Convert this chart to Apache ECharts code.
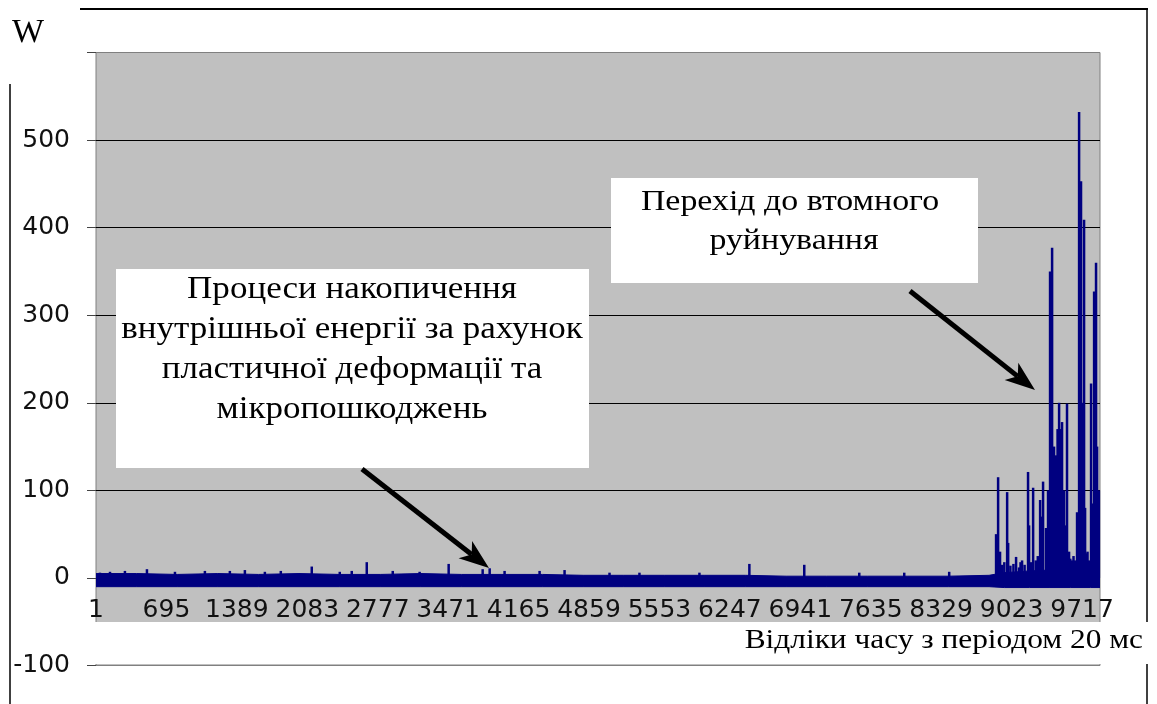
<!DOCTYPE html>
<html>
<head>
<meta charset="utf-8">
<script src="https://cdn.jsdelivr.net/npm/echarts@6/dist/echarts.min.js"></script>
<style>
  html, body { margin: 0; padding: 0; background: #ffffff; }
  #chart { width: 1157px; height: 704px; }
</style>
</head>
<body>
<div id="chart"></div>
<script>
// Number of recorded samples (20 ms apart)
const sampleCount = 9894;
// Category labels: sample numbers 1..N (every 694th one is shown)
const sampleNumbers = Array.from({ length: sampleCount }, (_, i) => String(i + 1));

// Background noise band: upper and lower envelope, W
const envelopeIdx = [0, 400, 800, 1200, 1600, 2000, 2400, 2800, 3200, 3600, 4000, 4400, 4800,
  5200, 5600, 6000, 6400, 6800, 7200, 7600, 8000, 8400, 8800, 8950, 9200, 9400, 9600, 9800, 9893];
const envelopeUpper = [5, 5, 4, 5, 4, 5, 4, 4, 5, 4, 4, 4, 3,
  3, 3, 3, 3, 2, 2, 2, 2, 2, 3, 6, 8, 9, 8, 9, 8];
const envelopeLower = [-10, -10, -10, -10, -10, -10, -10, -10, -10, -10, -10, -10, -10,
  -10, -10, -10, -10, -10, -10, -10, -10, -10, -10, -11, -11, -11, -11, -11, -11];

// Isolated peaks: sample index and W value
const spikeIdx = [39, 138, 285, 502, 778, 1073, 1319, 1467, 1664, 1821, 2126, 2402, 2520, 2668,
  2924, 3189, 3475, 3810, 3879, 4026, 4371, 4617, 5060, 5355, 5946, 6438, 6979, 7521, 7964, 8407,
  8869, 8889, 8908, 8930, 8950, 8978, 8988, 9010, 9040, 9066, 9095, 9110, 9125, 9150, 9184, 9194,
  9215, 9234, 9260, 9280, 9303, 9313, 9332, 9361, 9381, 9401, 9411, 9421, 9440, 9460, 9475, 9490,
  9500, 9519, 9539, 9555, 9568, 9588, 9600, 9617, 9632, 9647, 9667, 9687, 9697, 9706, 9716, 9736,
  9746, 9756, 9770, 9785, 9805, 9815, 9825, 9835, 9845, 9854, 9864, 9874, 9884];
const spikeVal = [6, 7, 8, 10, 7, 8, 8, 9, 7, 8, 13, 7, 8, 18,
  8, 7, 16, 10, 11, 8, 8, 9, 6, 6, 6, 16, 15, 6, 6, 7,
  50, 115, 30, 15, 18, 98, 40, 14, 16, 24, 12, 18, 20, 15, 121, 60,
  18, 103, 20, 25, 89, 70, 110, 57, 100, 350, 330, 377, 150, 140, 170, 200,
  170, 178, 100, 60, 199, 30, 22, 20, 25, 20, 75, 532, 300, 453, 200, 409,
  80, 28, 30, 20, 222, 60, 85, 327, 120, 360, 150, 25, 100];

const navy = '#000080';

const chart = echarts.init(document.getElementById('chart'), null, { renderer: 'canvas' });

function arrow(x1, y1, x2, y2) {
  const dx = x2 - x1, dy = y2 - y1;
  const len = Math.sqrt(dx * dx + dy * dy);
  const ux = dx / len, uy = dy / len;
  const nx = -uy, ny = ux;
  const headLen = 30, headHalf = 11, notch = 22;
  const bx = x2 - headLen * ux, by = y2 - headLen * uy;
  const mx = x2 - notch * ux, my = y2 - notch * uy;
  return [
    { type: 'line', z: 120, shape: { x1: x1, y1: y1, x2: mx, y2: my },
      style: { stroke: '#000', lineWidth: 5 } },
    { type: 'polygon', z: 121, shape: { points: [[x2, y2], [bx + headHalf * nx, by + headHalf * ny], [mx, my], [bx - headHalf * nx, by - headHalf * ny]] },
      style: { fill: '#000' } }
  ];
}

const serif = '"Liberation Serif", "Times New Roman", serif';
const sans = '"DejaVu Sans", Arial, sans-serif';

// centred serif caption line, widened slightly
function caption(x, y, text, size, sx) {
  return { type: 'text', z: 120, x: x, y: y, scaleX: sx,
    style: { x: 0, y: 0, text: text, font: size + 'px ' + serif, fill: '#000', textAlign: 'center', textVerticalAlign: 'middle' } };
}

const option = {
  animation: false,
  backgroundColor: '#ffffff',
  grid: {
    left: 96, right: 57, top: 52.5, bottom: 38.5,
    outerBoundsMode: 'none',
    show: true, backgroundColor: '#c0c0c0', borderColor: '#808080', borderWidth: 1
  },
  xAxis: {
    type: 'category',
    data: sampleNumbers,
    boundaryGap: false,
    position: 'bottom',
    // category axis crosses the value axis at W = 0 (100 W below is 87.6 px)
    offset: -87.6,
    axisLine: { show: false, onZero: false },
    axisTick: { show: false },
    splitLine: { show: false },
    axisLabel: {
      interval: 693,
      margin: 20,
      fontSize: 25,
      fontFamily: sans,
      color: '#111'
    }
  },
  yAxis: {
    type: 'value',
    min: -100, max: 600, interval: 100,
    axisLine: { show: false },
    axisTick: { show: true, length: 9, lineStyle: { color: '#444', width: 1 } },
    splitLine: { show: true, showMinLine: false, showMaxLine: false, lineStyle: { color: '#000', width: 1 } },
    axisLabel: {
      margin: 26,
      fontSize: 25,
      fontFamily: sans,
      color: '#111',
      formatter: function (v) { return v === 600 ? '' : String(v); }
    }
  },
  series: [
    {
      name: 'upper',
      type: 'line',
      symbol: 'none',
      data: envelopeIdx.map((x, i) => [x, envelopeUpper[i]]),
      lineStyle: { color: navy, width: 1 },
      areaStyle: { color: navy, opacity: 1 },
      z: 3
    },
    {
      name: 'lower',
      type: 'line',
      symbol: 'none',
      data: envelopeIdx.map((x, i) => [x, envelopeLower[i]]),
      lineStyle: { color: navy, width: 1 },
      areaStyle: { color: navy, opacity: 1 },
      z: 3
    },
    {
      name: 'peaks',
      type: 'bar',
      barWidth: 2.5,
      data: spikeIdx.map((x, i) => [x, spikeVal[i]]),
      itemStyle: { color: navy },
      z: 4
    }
  ],
  graphic: {
    elements: [
      // outer frame lines
      { type: 'line', z: 110, shape: { x1: 80, y1: 9, x2: 1148, y2: 9 }, style: { stroke: '#000', lineWidth: 2 } },
      { type: 'line', z: 110, shape: { x1: 1147, y1: 9, x2: 1147, y2: 704 }, style: { stroke: '#000', lineWidth: 1.5 } },
      { type: 'line', z: 110, shape: { x1: 10, y1: 84, x2: 10, y2: 704 }, style: { stroke: '#000', lineWidth: 1.5 } },
      // axis name W
      { type: 'text', z: 120, left: 12, top: 16, style: { text: 'W', font: '34px ' + serif, fill: '#000' } },
      // x-axis title panel
      { type: 'rect', z: 115, shape: { x: 80, y: 622, width: 1077, height: 42 }, style: { fill: '#fff' } },
      { type: 'text', z: 120, x: 1143, y: 641, scaleX: 1.12,
        style: { x: 0, y: 0, text: 'Відліки часу з періодом 20 мс', font: '28px ' + serif, fill: '#000', textAlign: 'right', textVerticalAlign: 'middle' } },
      // annotation: accumulation stage
      { type: 'rect', z: 115, shape: { x: 116, y: 269, width: 473, height: 199 }, style: { fill: '#fff' } },
      caption(352, 290, 'Процеси накопичення', 31, 1.13),
      caption(352, 330, 'внутрішньої енергії за рахунок', 31, 1.13),
      caption(352, 370, 'пластичної деформації та', 31, 1.13),
      caption(352, 410, 'мікропошкоджень', 31, 1.13),
      // annotation: fatigue failure stage
      { type: 'rect', z: 115, shape: { x: 611, y: 178, width: 367, height: 105 }, style: { fill: '#fff' } },
      caption(790, 202, 'Перехід до втомного', 30, 1.13),
      caption(794, 241, 'руйнування', 30, 1.13)
    ]
      .concat(arrow(362, 469, 489, 568))
      .concat(arrow(910, 291, 1035, 390))
  }
};

chart.setOption(option);
</script>
</body>
</html>
